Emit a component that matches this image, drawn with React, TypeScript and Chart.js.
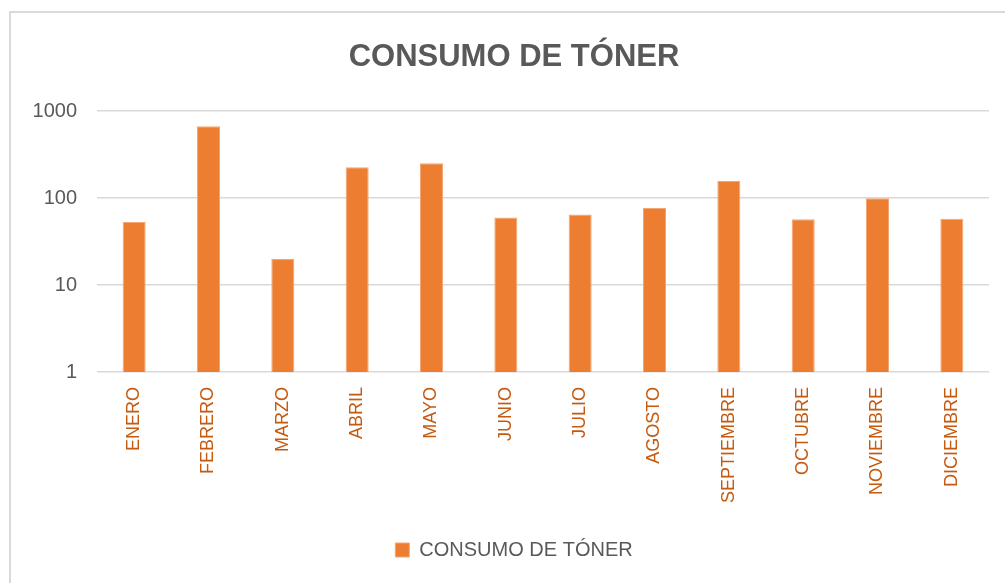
import React, { useEffect, useRef } from "react";
import { Chart, registerables } from "chart.js";

Chart.register(...registerables);

const categories = ["ENERO", "FEBRERO", "MARZO", "ABRIL", "MAYO", "JUNIO", "JULIO", "AGOSTO", "SEPTIEMBRE", "OCTUBRE", "NOVIEMBRE", "DICIEMBRE"];
const consumo = [53, 673, 20, 226, 252, 60, 65, 77, 157, 57, 100, 58];
const yTicks = [1, 10, 100, 1000];
const seriesName = "CONSUMO DE TÓNER";
const titleText = "CONSUMO DE TÓNER";

export default function App() {
  const ref = useRef<HTMLCanvasElement | null>(null);
  useEffect(() => {
    if (!ref.current) return;
    const chart = new Chart(ref.current, {
      type: "bar",
      data: {
        labels: categories,
        datasets: [
          {
            label: seriesName,
            data: consumo,
            backgroundColor: "#ED7D31",
            borderColor: "#F4A672",
            borderWidth: 1,
            barPercentage: 0.31,
            categoryPercentage: 1,
          },
        ],
      },
      options: {
        responsive: false,
        animation: false,
        layout: { padding: { left: 30, right: 16, top: 0, bottom: 13 } },
        plugins: {
          title: {
            display: true,
            text: titleText,
            color: "#595959",
            font: { family: "Liberation Sans", size: 31, weight: "bold" },
            padding: { top: 26, bottom: 35 },
          },
          legend: {
            position: "bottom",
            labels: {
              color: "#595959",
              font: { family: "Liberation Sans", size: 20 },
              boxWidth: 14,
              boxHeight: 14,
              padding: 10,
            },
          },
          tooltip: { enabled: false },
        },
        scales: {
          x: {
            grid: { display: false },
            border: { display: false },
            ticks: {
              color: "#C55A11",
              font: { family: "Liberation Sans", size: 18 },
              minRotation: 90,
              maxRotation: 90,
              padding: 7,
              autoSkip: false,
            },
            afterFit: (scale: any) => {
              scale.height = 158;
            },
          },
          y: {
            type: "logarithmic",
            min: 1,
            max: 1000,
            grid: { color: "#D9D9D9", lineWidth: 1.5, drawTicks: false },
            border: { display: false },
            ticks: {
              color: "#595959",
              font: { family: "Liberation Sans", size: 20 },
              padding: 20,
              callback: (v: any) => String(v),
            },
            afterBuildTicks: (scale: any) => {
              scale.ticks = yTicks.map((v) => ({ value: v }));
            },
            afterFit: (scale: any) => {
              scale.width = 58;
              scale._computeLabelArea = () => undefined;
            },
          },
        },
      },
    });
    return () => chart.destroy();
  }, []);
  return (
    <div style={{ position: "fixed", left: 0, top: 0, width: 1005, height: 583, background: "#fff" }}>
      <div
        style={{
          position: "absolute",
          left: 9,
          top: 11,
          width: 996,
          height: 572,
          borderLeft: "2px solid #D9D9D9",
          borderTop: "2px solid #D9D9D9",
          boxSizing: "border-box",
        }}
      />
      <canvas ref={ref} width={996} height={570} style={{ position: "absolute", left: 9, top: 13 }} />
    </div>
  );
}
